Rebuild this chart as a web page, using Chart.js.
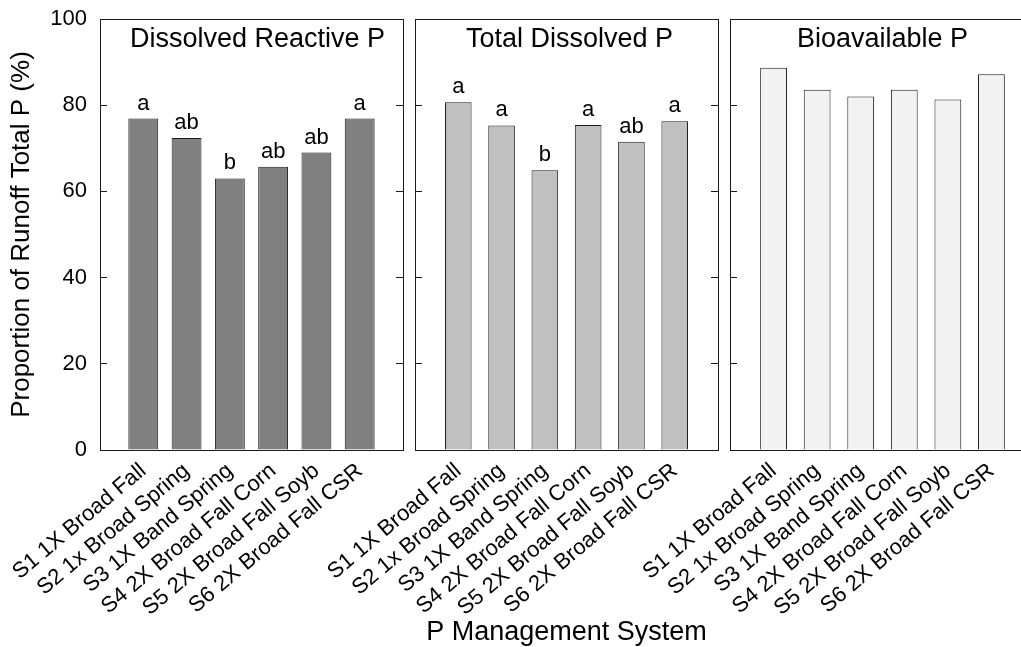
<!DOCTYPE html>
<html><head><meta charset="utf-8">
<script src="https://cdn.jsdelivr.net/npm/chart.js@4.4.0/dist/chart.umd.min.js"></script>
<style>
html,body{margin:0;padding:0;background:#fff;overflow:hidden;}
#wrap{position:relative;width:1021px;height:647px;overflow:hidden;background:#fff;}
canvas{position:absolute;left:0;top:0;}
</style></head><body>
<div id="wrap">
<canvas id="c1" width="1100" height="647"></canvas>
<canvas id="c2" width="1100" height="647"></canvas>
<canvas id="c3" width="1100" height="647"></canvas>
</div>
<script>
// ---- data ----
const categories = ['S1 1X Broad Fall', 'S2 1x Broad Spring', 'S3 1X Band Spring', 'S4 2X Broad Fall Corn', 'S5 2X Broad Fall Soyb', 'S6 2X Broad Fall CSR'];
const panelTitles = ['Dissolved Reactive P', 'Total Dissolved P', 'Bioavailable P'];
const drpValues = [76.9, 72.4, 63.0, 65.7, 69.0, 76.9];
const tdpValues = [80.7, 75.3, 64.9, 75.4, 71.5, 76.3];
const bapValues = [88.7, 83.6, 82.0, 83.6, 81.3, 87.2];
const drpLetters = ['a', 'ab', 'b', 'ab', 'ab', 'a'];
const tdpLetters = ['a', 'a', 'b', 'a', 'ab', 'a'];
const yTicks = [0, 20, 40, 60, 80, 100];
const yTitle = 'Proportion of Runoff Total P (%)';
const xTitle = 'P Management System';

// ---- styling / layout ----
const FONT = "'Liberation Sans', Arial, Helvetica, sans-serif";
Chart.defaults.font.family = FONT;
Chart.defaults.color = '#000';
const CANVAS_W = 1100, CANVAS_H = 647;
const PLOT_TOP = 19, PLOT_BOTTOM = 450;
const LINE = '#1a1a1a';

function makePanel(id, cfg) {
  const labels = ['', ...categories, ''];
  const data = [null, ...cfg.values, null];
  const yW = cfg.showY ? cfg.left : 0;
  const panelText = {
    id: 'panelText',
    afterDatasetsDraw(chart) {
      const {ctx, chartArea} = chart;
      ctx.save();
      ctx.fillStyle = '#000';
      ctx.textAlign = 'center';
      ctx.textBaseline = 'alphabetic';
      ctx.font = '27px ' + FONT;
      ctx.fillText(cfg.title, (chartArea.left + chartArea.right) / 2 + (cfg.titleDx || 0), chartArea.top + 28);
      if (cfg.letters) {
        ctx.font = '22px ' + FONT;
        const meta = chart.getDatasetMeta(0);
        cfg.letters.forEach((t, i) => {
          const el = meta.data[i + 1];
          ctx.fillText(t, el.x, el.y - 9);
        });
      }
      ctx.restore();
    }
  };
  return new Chart(document.getElementById(id), {
    type: 'bar',
    data: {
      labels,
      datasets: [{
        data,
        backgroundColor: cfg.color,
        borderColor: LINE,
        borderWidth: 1,
        barPercentage: cfg.barPct,
        categoryPercentage: 1
      }]
    },
    options: {
      responsive: false,
      animation: false,
      events: [],
      layout: { padding: { left: cfg.left - yW, right: CANVAS_W - cfg.right, top: PLOT_TOP, bottom: 0 } },
      plugins: { legend: { display: false }, tooltip: { enabled: false }, title: { display: false } },
      scales: {
        x: {
          type: 'category', position: 'bottom', offset: false,
          grid: { display: false },
          border: { display: true, color: LINE, width: 1 },
          ticks: { autoSkip: false, maxRotation: 40, minRotation: 40, padding: 0, font: { size: 22 }, color: '#000' },
          title: cfg.xTitle ? { display: true, text: cfg.xTitle, font: { size: 27, lineHeight: 1 }, padding: { top: 0, bottom: 1 }, color: '#000' } : { display: false },
          afterFit(s) { s.height = CANVAS_H - PLOT_BOTTOM; s.paddingLeft = 0; s.paddingRight = 0; }
        },
        xTop: {
          type: 'category', position: 'top', offset: false,
          grid: { display: false },
          border: { display: true, color: LINE, width: 1 },
          ticks: { display: false },
          afterFit(s) { s.height = 0; s.paddingLeft = 0; s.paddingRight = 0; }
        },
        y: {
          type: 'linear', position: 'left', min: 0, max: 100,
          afterBuildTicks(s) { s.ticks = yTicks.map(v => ({ value: v })); },
          ticks: { display: cfg.showY, padding: 20, font: { size: 22 }, color: '#000' },
          grid: { drawOnChartArea: false, drawTicks: true, tickLength: -7, color: LINE },
          border: { display: true, color: LINE, width: 1 },
          title: cfg.showY ? { display: true, text: yTitle, font: { size: 26, lineHeight: 1.2 }, padding: { top: 6, bottom: 0 }, color: '#000' } : { display: false },
          afterFit(s) { s.width = yW; s.paddingTop = 0; s.paddingBottom = 0; }
        },
        yR: {
          type: 'linear', position: 'right', min: 0, max: 100,
          afterBuildTicks(s) { s.ticks = yTicks.map(v => ({ value: v })); },
          ticks: { display: false },
          grid: { drawOnChartArea: false, drawTicks: true, tickLength: -7, color: LINE },
          border: { display: true, color: LINE, width: 1 },
          afterFit(s) { s.width = 0; s.paddingTop = 0; s.paddingBottom = 0; }
        }
      }
    },
    plugins: [panelText]
  });
}

makePanel('c1', { values: drpValues, letters: drpLetters, title: panelTitles[0], color: '#808080', left: 100, right: 403, showY: true, barPct: 0.69, titleDx: 6 });
makePanel('c2', { values: tdpValues, letters: tdpLetters, title: panelTitles[1], color: '#c0c0c0', left: 415, right: 718, showY: false, barPct: 0.615, xTitle: xTitle, titleDx: 3 });
makePanel('c3', { values: bapValues, letters: null, title: panelTitles[2], color: '#f2f2f2', left: 730, right: 1035, showY: false, barPct: 0.615, titleDx: 0 });
</script>
</body></html>
